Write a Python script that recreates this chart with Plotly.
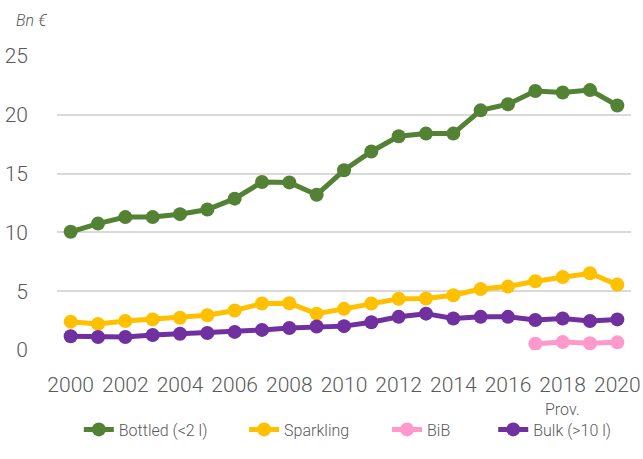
import plotly.graph_objects as go

# Wine market value, billions of euros
years = list(range(2000, 2021))
bottled = [10.05, 10.75, 11.3, 11.3, 11.55, 11.95, 12.87, 14.28, 14.25, 13.2,
           15.28, 16.88, 18.18, 18.4, 18.4, 20.38, 20.9, 22.03, 21.9, 22.1, 20.79]
sparkling = [2.41, 2.22, 2.46, 2.6, 2.74, 2.95, 3.36, 3.96, 3.98, 3.09,
             3.5, 3.96, 4.36, 4.38, 4.66, 5.18, 5.39, 5.85, 6.2, 6.53, 5.56]
bib_years = [2017, 2018, 2019, 2020]
bib = [0.53, 0.67, 0.57, 0.65]
bulk = [1.17, 1.11, 1.11, 1.27, 1.38, 1.44, 1.54, 1.71, 1.87, 2.0,
        2.03, 2.36, 2.82, 3.09, 2.68, 2.82, 2.82, 2.55, 2.68, 2.47, 2.6]

series = [
    ("Bottled (<2 l)", years, bottled, "#548235"),
    ("Sparkling", years, sparkling, "#FFC000"),
    ("BiB", bib_years, bib, "#FF99CC"),
    ("Bulk (>10 l)", years, bulk, "#7030A0"),
]
# left edge of each legend entry, as a fraction of the plot width
legend_x = [0.038, 0.326, 0.575, 0.76]

FONT = "Roboto, sans-serif"
GREY = "#595959"
PLOT_W, PLOT_H = 574, 307

fig = go.Figure()
legend_ids = ["legend", "legend2", "legend3", "legend4"]
for (name, xs, ys, color), lid in zip(series, legend_ids):
    fig.add_trace(go.Scatter(
        x=xs, y=ys, name=name, mode="lines+markers", legend=lid,
        line=dict(color=color, width=5),
        marker=dict(color=color, size=14),
    ))

fig.update_layout(
    width=643, height=459,
    margin=dict(l=57, r=12, t=56, b=96),
    paper_bgcolor="white", plot_bgcolor="white",
    font=dict(family=FONT, color=GREY, size=21, weight=300),
    showlegend=True,
    xaxis=dict(range=[1999.5, 2020.5], tickvals=years[::2], showgrid=False,
               zeroline=False, showline=False, ticks="", tickangle=0,
               ticklabelstandoff=20, automargin=False),
    yaxis=dict(range=[0, 25], tickvals=[0, 5, 10, 15, 20, 25], showgrid=True,
               gridcolor="#d9d9d9", gridwidth=1.5, zeroline=False, showline=False,
               ticks="", ticklabelstandoff=28, automargin=False),
)
for lid, lx in zip(legend_ids, legend_x):
    fig.update_layout({lid: dict(orientation="h", x=lx, xanchor="left",
                                 y=-83 / PLOT_H, yanchor="middle", bgcolor="rgba(0,0,0,0)",
                                 font=dict(size=16, color=GREY, weight=300))})

fig.add_annotation(text="<i>Bn €</i>", xref="paper", yref="paper",
                   x=-43 / PLOT_W, y=(56 - 19) / PLOT_H + 1,
                   xanchor="left", yanchor="middle", showarrow=False,
                   font=dict(size=16, color=GREY, weight=300))
fig.add_annotation(text="Prov.", xref="x", yref="paper", x=2018, y=-62 / PLOT_H,
                   xanchor="center", yanchor="middle", showarrow=False,
                   font=dict(size=16, color=GREY, weight=300))

# drop the default 8px page margin so the figure fills the window
fig.write_html("out.html", config={"displayModeBar": False},
               post_script="document.body.style.margin = '0';")
